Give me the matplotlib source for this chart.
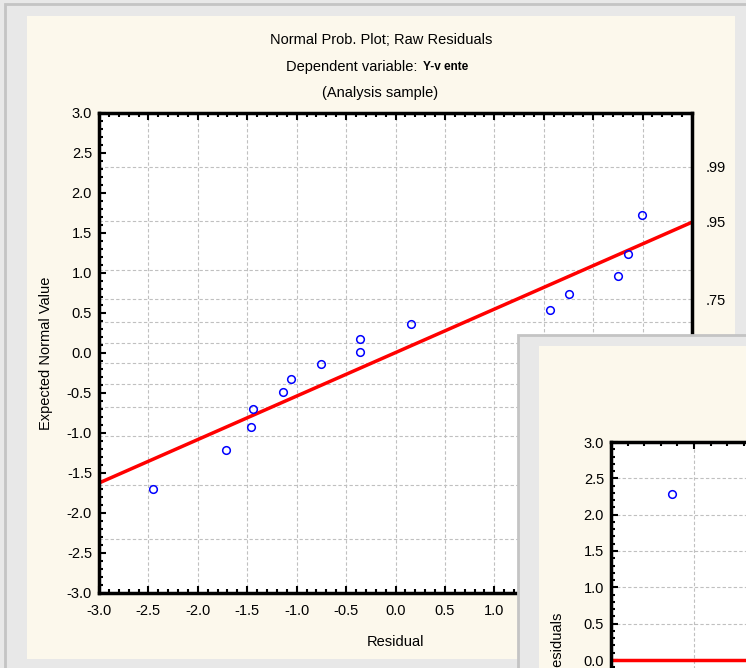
import matplotlib
matplotlib.use("Agg")
import matplotlib.pyplot as plt
from matplotlib.patches import Rectangle
from matplotlib.ticker import MultipleLocator, FuncFormatter
from statistics import NormalDist

plt.rcParams['font.family'] = ['Liberation Sans', 'DejaVu Sans']

# ---- data ----
residual = [-2.45, -1.71, -1.46, -1.44, -1.14, -1.06, -0.75, -0.36, -0.36,
            0.16, 1.56, 1.76, 2.25, 2.35, 2.49]
expected = [-1.70, -1.21, -0.93, -0.70, -0.49, -0.32, -0.14, 0.01, 0.18,
            0.36, 0.54, 0.74, 0.96, 1.24, 1.72]
fit_x = [-3.0, 3.0]
fit_y = [-1.625, 1.635]
prob_grid = [.01, .05, .15, .25, .35, .45, .55, .65, .75, .85, .95, .99]
prob_labels = [.01, .05, .25, .55, .75, .95, .99]
# second (overlapping) window
pred2 = [0.73]
resid2 = [2.28]

title1 = "Normal Prob. Plot; Raw Residuals"
title2a = "Dependent variable: "
title2b = "Y-v ente"
title3 = "(Analysis sample)"

W, H = 746, 668
fig = plt.figure(figsize=(W / 100, H / 100), dpi=100)
fig.patch.set_facecolor('#E8E8E8')


def fx(px):
    return px / W


def fy(py):
    return 1 - py / H


def rect(x0, y0, x1, y1, **kw):
    r = Rectangle((fx(x0), fy(y1)), fx(x1) - fx(x0), fy(y0) - fy(y1),
                  transform=fig.transFigure, **kw)
    fig.patches.append(r)
    return r


CREAM = '#FCF8EC'
GREY = '#E8E8E8'
EDGE = '#C4C4C4'

# main window border + cream panel
rect(5, 4, 760, 680, facecolor='none', edgecolor=EDGE, lw=2, zorder=-2)
rect(27, 16, 735, 659, facecolor=CREAM, edgecolor='none', zorder=-1)

FS = 10.5

# ---- main axes ----
ax = fig.add_axes([fx(99), fy(593), fx(692) - fx(99), fy(113) - fy(593)])
ax.set_zorder(1)
ax.set_facecolor('white')
ax.set_xlim(-3, 3)
ax.set_ylim(-3, 3)
ax.xaxis.set_major_locator(MultipleLocator(0.5))
ax.xaxis.set_minor_locator(MultipleLocator(0.1))
ax.yaxis.set_major_locator(MultipleLocator(0.5))
ax.yaxis.set_minor_locator(MultipleLocator(0.1))
ax.xaxis.set_major_formatter(matplotlib.ticker.FormatStrFormatter('%.1f'))
ax.yaxis.set_major_formatter(matplotlib.ticker.FormatStrFormatter('%.1f'))
ax.tick_params(which='both', direction='in', top=True, right=True,
               labelsize=FS, width=1.5, colors='black')
ax.tick_params(which='major', length=5)
ax.tick_params(which='minor', length=3)
ax.tick_params(axis='y', pad=5)
ax.tick_params(axis='x', pad=8)
for s in ax.spines.values():
    s.set_linewidth(2.5)
ax.grid(axis='x', which='major', color='#C0C0C0', ls=(0, (3, 2)), lw=0.8)
nd = NormalDist()
for p in prob_grid:
    ax.axhline(nd.inv_cdf(p), color='#C0C0C0', ls=(0, (3, 2)), lw=0.8, zorder=0.5)
ax.plot(fit_x, fit_y, color='#FF0000', lw=2.5, zorder=2, solid_capstyle='butt')
ax.plot(residual, expected, ls='none', marker='o', ms=5.5, mfc='none',
        mec='#0000FF', mew=1.1, zorder=3)

ax2 = ax.twinx()
ax2.set_zorder(2)
ax2.set_ylim(-3, 3)
ax2.set_yticks([nd.inv_cdf(p) for p in prob_labels])
ax2.set_yticklabels([('%.2f' % p)[1:] for p in prob_labels])
ax2.tick_params(axis='y', length=0, pad=10, labelsize=FS)
for s in ax2.spines.values():
    s.set_visible(False)

fig.text(fx(46), fy(353), "Expected Normal Value", rotation=90,
         ha='center', va='center', fontsize=FS)
fig.text(fx(395.5), fy(642), "Residual", ha='center', va='center', fontsize=FS)

fig.text(fx(381), fy(40), title1, ha='center', va='center', fontsize=FS)
fig.text(fx(421), fy(67), title2a, ha='right', va='center', fontsize=FS)
fig.text(fx(423), fy(67), title2b, ha='left', va='center', fontsize=8.5,
         fontweight='bold')
fig.text(fx(380), fy(93), title3, ha='center', va='center', fontsize=FS)

# ---- overlapping second window ----
rect(518, 335, 800, 720, facecolor=GREY, edgecolor=EDGE, lw=2, zorder=5)
rect(539, 346, 800, 720, facecolor=CREAM, edgecolor='none', zorder=6)

axo = fig.add_axes([fx(611), fy(878), fx(1026) - fx(611), fy(442) - fy(878)])
axo.set_zorder(10)
axo.set_facecolor('white')
axo.set_xlim(0, 5)
axo.set_ylim(-3, 3)
axo.xaxis.set_major_locator(MultipleLocator(1))
axo.xaxis.set_minor_locator(MultipleLocator(0.2))
axo.yaxis.set_major_locator(MultipleLocator(0.5))
axo.yaxis.set_minor_locator(MultipleLocator(0.1))
axo.yaxis.set_major_formatter(
    FuncFormatter(lambda v, pos: '%.1f' % v if v > -0.01 else ''))
axo.tick_params(which='both', direction='in', top=True, right=True,
                labelsize=FS, width=1.5, labelbottom=False, labelright=False)
axo.tick_params(which='major', length=5)
axo.tick_params(which='minor', length=3)
axo.tick_params(axis='y', pad=5)
for s in axo.spines.values():
    s.set_linewidth(2.5)
axo.grid(which='major', color='#C0C0C0', ls=(0, (3, 2)), lw=0.8)
axo.axhline(0, color='#FF0000', lw=2.5, zorder=2)
axo.plot(pred2, resid2, ls='none', marker='o', ms=5.5, mfc='none',
         mec='#0000FF', mew=1.1, zorder=3)
fig.text(fx(558), fy(613), "Raw Residuals", rotation=90, ha='center',
         va='top', fontsize=FS, zorder=11)

fig.savefig("out.png", dpi=100, facecolor=fig.get_facecolor())
